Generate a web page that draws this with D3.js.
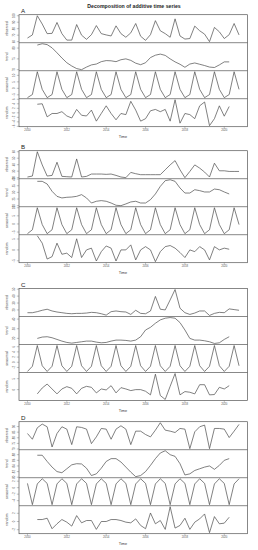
<!DOCTYPE html>
<html><head><meta charset="utf-8">
<script src="https://cdn.jsdelivr.net/npm/d3@7"></script>
<style>body{margin:0;background:#fff}svg{display:block}</style>
</head><body><svg id="c" width="258" height="550"></svg>
<script>
const startYear = 2010, frequency = 4, nObs = 44;
const xTickYears = [2010, 2012, 2014, 2016, 2018, 2020];
const panelLetters = ["A", "B", "C", "D"];
const componentNames = ["observed", "trend", "seasonal", "random"];

const obsA = [65.6,70.4,100,87.2,72.4,72.8,89.6,72.4,62.4,62.4,86.4,70,63.6,70.8,84.8,72.4,70.4,68.8,84.4,72.4,66.8,73.6,88,68.4,62,70.8,92.4,76.8,72.4,66.8,95.2,68.8,64,64.8,84,76.8,71.6,60,82,75.2,64.8,70.8,88,70.4];
const trendA = [null,null,81.4,82,81.6,80.1,77.8,75.4,73.2,71.7,70.5,70,71.2,72.2,72.6,73.7,74.2,74.1,73.7,74.6,75,74.3,73,72.3,73.2,75.6,76.7,77.2,76.6,75,73.6,72.5,71.1,72.6,73.1,72.5,71.9,71.2,71,72.2,73.6,73.6,null,null];
const seasA = [-7.2,-4.8,12.8,-0.8,-7.2,-4.8,12.8,-0.8,-7.2,-4.8,12.8,-0.8,-7.2,-4.8,12.8,-0.8,-7.2,-4.8,12.8,-0.8,-7.2,-4.8,12.8,-0.8,-7.2,-4.8,12.8,-0.8,-7.2,-4.8,12.8,-0.8,-7.2,-4.8,12.8,-0.8,-7.2,-4.8,12.8,-0.8,-7.2,-4.8,12.8,-0.8];
const randA = [null,null,3.8,4.0,-1.8,-0.3,-0.3,0.5,-1.4,-2.3,1.5,-1.1,-1.4,1.2,-3.7,-0.3,3.1,-0.3,-3.1,-0.3,-0.8,5.1,1.2,-3.7,-2.6,0.9,1.5,0.5,1.5,-3.7,5.8,-4.6,-0.3,-0.8,-2.6,3.1,4.8,-5.7,-2.6,3.1,-1.5,2.8,null,null];

const obsB = [21,22.5,60,39.7,22.5,23.5,43.8,22,21.5,21,48.9,21,22,25.6,25.6,25.6,25.1,25.6,23.5,21,20,28.1,26.1,24.6,24.6,24.6,24.6,24.6,32.2,39.7,46.3,32.2,20,29.6,39.7,34.7,28.6,21,42.3,30.6,30.6,29.6,29.6,29.6];
const trendB = [null,null,38.3,38.3,36.3,30.8,27,25.8,26.3,26.5,27,28.3,25.8,22,23.3,23.8,23.3,22,20.3,20,21.3,22.8,23.3,22,22,24.5,28.8,34.5,38.8,39.5,38.3,33.3,29.5,29.5,32,31.3,30.3,30.3,32.5,32,30.3,28.8,null,null];
const seasB = [-6,-3.6,10,-0.4,-6,-3.6,10,-0.4,-6,-3.6,10,-0.4,-6,-3.6,10,-0.4,-6,-3.6,10,-0.4,-6,-3.6,10,-0.4,-6,-3.6,10,-0.4,-6,-3.6,10,-0.4,-6,-3.6,10,-0.4,-6,-3.6,10,-0.4,-6,-3.6,10,-0.4];
const randB = [null,null,6.5,3.1,-4.2,-3.1,3.1,-2,-1.5,-3.5,5.1,-3.5,0,0.8,-5.1,-0.8,1.8,0.8,-5.1,0,0,2.3,-4.6,0,1.5,0,-5.4,-0.8,1.5,2,0.8,-1.2,-3.5,0,-0.8,1.5,0,-4.6,1.5,0,0.8,0.3,null,null];

const obsC = [16,16,17.5,19.5,21,18.5,17,16,15,14.5,15,15,15.5,16.5,16,14.5,12.5,17.5,18.5,17.5,17,13.5,19.5,15,14.5,18.5,39.5,21,20,34.5,49.5,22.5,16,13.5,15.5,18.5,18.5,12,15,16.5,16,21.5,20.5,19.5];
const trendC = [null,null,19.95,21.35,21.7,20.65,18.9,17.15,15.75,15.05,15.75,16.45,17.15,17.15,16.1,15.4,15.75,17.15,18.2,18.2,17.85,17.15,18.2,21.7,28.7,31.5,35.7,39.2,40.95,41.65,40.95,36.4,28.7,19.95,18.2,18.2,17.5,16.45,14.7,15.4,18.9,21.7,null,null];
const seasC = [-3.55,-1.55,6.45,-1.35,-3.55,-1.55,6.45,-1.35,-3.55,-1.55,6.45,-1.35,-3.55,-1.55,6.45,-1.35,-3.55,-1.55,6.45,-1.35,-3.55,-1.55,6.45,-1.35,-3.55,-1.55,6.45,-1.35,-3.55,-1.55,6.45,-1.35,-3.55,-1.55,6.45,-1.35,-3.55,-1.55,6.45,-1.35,-3.55,-1.55,6.45,-1.35];
const randC = [null,null,-1.95,0.75,2.55,0.3,-1.95,0.3,1.35,0.6,-1.95,0.6,1.5,1.05,-1.5,0.3,-0.15,1.8,-1.5,0.9,0.3,-0.45,0,0,-0.75,-2.4,7.05,-2.7,-4.5,1.5,7.35,-2.4,-0.9,-1.2,-1.95,2.25,2.25,-2.4,-2.25,1.05,0.3,1.8,null,null];

const obsD = [83.8,78.7,88.9,92.2,89.8,71.8,83.8,89.8,87.7,73.9,89.8,89.2,87.7,74.8,80.8,88.3,87.7,78.7,87.7,90.7,87.7,73.9,85.9,85.9,82.9,80.8,86.8,93.4,86.8,85.9,84.7,88.3,87.7,70.3,85.3,89.8,91.3,70.3,88.3,88.3,87.7,80.2,85.9,91.9];
const trendD = [null,null,87.8,87.8,85.6,83.6,82,81.6,83,84.4,84.8,84.7,83.2,80.6,81.2,83.2,85.6,86.6,86.6,85.4,83.6,81.8,80.2,80.6,82,84.2,86.6,88.6,89.4,88,87.4,84.8,80.8,81.2,82.4,83,83.6,84,82.8,84.2,86,86.6,null,null];
const seasD = [1.32,-5.24,1.16,2.76,1.32,-5.24,1.16,2.76,1.32,-5.24,1.16,2.76,1.32,-5.24,1.16,2.76,1.32,-5.24,1.16,2.76,1.32,-5.24,1.16,2.76,1.32,-5.24,1.16,2.76,1.32,-5.24,1.16,2.76,1.32,-5.24,1.16,2.76,1.32,-5.24,1.16,2.76,1.32,-5.24,1.16,2.76];
const randD = [null,null,0.48,0.48,0.8,-1.76,-0.56,0.48,-0.16,-1.12,1.44,-0.32,0.24,0.24,-1.92,0,0,0.48,0.48,0.24,-0.16,-0.32,0.64,-0.96,-1.76,2.08,-0.56,0.24,-1.92,3.6,-1.6,-0.96,0.8,-1.92,-0.16,0.64,1.84,-2.72,1.2,-0.56,-0.4,1.04,null,null];

const panelSeries = [
  [obsA, trendA, seasA, randA],
  [obsB, trendB, seasB, randB],
  [obsC, trendC, seasC, randC],
  [obsD, trendD, seasD, randD]
];

// layout
const boxLeft = 19, boxRight = 247.5;
const panelTops = [14.7, 150.7, 288.5, 421.7];
const subH = 28;
const lineColor = "#4a4a4a";
const font = "Arial, 'Liberation Sans', Helvetica, sans-serif";

const svg = d3.select("#c");
svg.append("rect").attr("width", 258).attr("height", 550).attr("fill", "#fff");

const times = d3.range(nObs).map(i => startYear + i / frequency);
const tMin = times[0], tMax = times[nObs - 1];
const pad = (tMax - tMin) * 0.04;
const x = d3.scaleLinear().domain([tMin - pad, tMax + pad]).range([boxLeft, boxRight]);

svg.append("text").attr("x", 134).attr("y", 8.3)
  .attr("text-anchor", "middle").attr("font-family", font)
  .attr("font-size", 5.2).attr("font-weight", "bold").attr("fill", "#222")
  .text("Decomposition of additive time series");

panelSeries.forEach((series, p) => {
  const top = panelTops[p];
  const g = svg.append("g");
  g.append("text").attr("x", 21).attr("y", top - 2)
    .attr("font-family", font).attr("font-size", 6.2).attr("fill", "#222")
    .text(panelLetters[p]);

  series.forEach((vals, k) => {
    const y0 = top + k * subH, y1 = y0 + subH;
    const ext = d3.extent(vals.filter(v => v != null));
    const ypad = (ext[1] - ext[0]) * 0.04;
    const y = d3.scaleLinear().domain([ext[0] - ypad, ext[1] + ypad]).range([y1, y0]);
    const pts = times.map((t, i) => [t, vals[i]]);
    const line = d3.line().defined(d => d[1] != null).x(d => x(d[0])).y(d => y(d[1]));
    g.append("path").attr("d", line(pts)).attr("fill", "none")
      .attr("stroke", lineColor).attr("stroke-width", 0.7);

    // y axis
    const ticks = y.ticks(4).filter(t => y(t) >= y0 - 0.1 && y(t) <= y1 + 0.1);
    const fmt = y.tickFormat(4);
    ticks.forEach(t => {
      g.append("line").attr("x1", boxLeft - 2.2).attr("x2", boxLeft)
        .attr("y1", y(t)).attr("y2", y(t)).attr("stroke", "#666").attr("stroke-width", 0.4);
      g.append("text").attr("transform", `translate(${boxLeft - 4.3},${y(t)}) rotate(-90)`)
        .attr("text-anchor", "middle").attr("font-family", font)
        .attr("font-size", 2.8).attr("fill", "#555").text(fmt(t));
    });
    g.append("text").attr("transform", `translate(7.5,${(y0 + y1) / 2}) rotate(-90)`)
      .attr("text-anchor", "middle").attr("font-family", font)
      .attr("font-size", 3.6).attr("fill", "#444").text(componentNames[k]);
    if (k > 0) {
      g.append("line").attr("x1", boxLeft).attr("x2", boxRight).attr("y1", y0).attr("y2", y0)
        .attr("stroke", "#555").attr("stroke-width", 0.7);
    }
  });

  const bottom = top + 4 * subH;
  g.append("rect").attr("x", boxLeft).attr("y", top).attr("width", boxRight - boxLeft)
    .attr("height", bottom - top).attr("fill", "none").attr("stroke", "#555").attr("stroke-width", 0.7);

  xTickYears.forEach(yr => {
    g.append("line").attr("x1", x(yr)).attr("x2", x(yr)).attr("y1", bottom).attr("y2", bottom + 2)
      .attr("stroke", "#666").attr("stroke-width", 0.4);
    g.append("text").attr("x", x(yr)).attr("y", bottom + 4.6).attr("text-anchor", "middle")
      .attr("font-family", font).attr("font-size", 2.8).attr("fill", "#555").text(yr);
  });
  g.append("text").attr("x", 123).attr("y", bottom + 11.2).attr("text-anchor", "middle")
    .attr("font-family", font).attr("font-size", 3.8).attr("fill", "#333").text("Time");
});
</script></body></html>
